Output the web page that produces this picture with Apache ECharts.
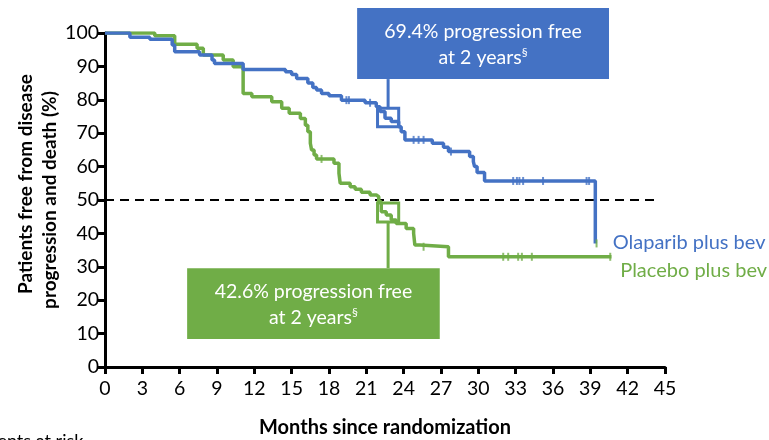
<!DOCTYPE html>
<html><head><meta charset="utf-8">
<script src="https://cdn.jsdelivr.net/npm/echarts@6/dist/echarts.min.js"></script>
<style>html,body{margin:0;padding:0;background:#fff}#c{width:769px;height:440px}</style>
</head><body><div id="c"></div>
<script>
// ---- data (months, % free from progression/death) ----
const olaparibEvents = [
  [0,100],[2.0,98.7],[3.6,98.1],[5.4,96.4],[5.6,94.4],[7.6,93.4],[8.6,91.9],[8.8,90.9],
  [11.1,89.1],[14.5,88.4],[15.0,87.6],[15.4,86.4],[16.3,85.0],[16.7,83.7],[17.0,82.9],
  [17.4,81.9],[18.0,81.2],[19.0,79.9],[20.9,79.1],[21.8,77.9],[22.1,76.5],[22.5,74.5],
  [23.0,73.5],[23.6,71.9],[23.8,70.4],[24.1,68.0],[26.3,67.0],[27.2,65.8],[27.6,64.5],
  [29.3,63.0],[29.6,61.5],[29.7,60.0],[29.9,58.2],[30.5,55.7],[39.4,37.0]
];
const placeboEvents = [
  [0,100],[4.0,99.2],[5.6,96.6],[7.4,95.4],[7.9,93.4],[9.5,91.9],[10.3,89.9],[11.1,81.9],
  [11.8,80.9],[13.4,79.4],[14.2,77.5],[14.8,76.0],[15.7,74.4],[16.1,72.4],[16.3,70.4],
  [16.5,67.0],[16.6,65.0],[16.8,63.5],[17.0,62.3],[18.4,61.0],[18.8,58.0],[18.9,55.0],
  [19.7,54.0],[20.1,53.2],[20.6,52.3],[21.3,51.5],[21.8,51.0],[22.0,49.5],[22.2,46.5],
  [22.6,45.5],[23.0,44.0],[23.4,43.0],[24.2,41.5],[24.8,40.0],[24.9,36.5],[25.3,36.0],
  [27.6,33.0],[40.7,33.0]
];
const olaparibCensored = [
  [19.4,79.9],[19.6,79.9],[21.3,79.1],[24.8,68.0],[25.2,68.0],[25.6,68.0],[27.8,64.5],
  [32.8,55.7],[33.1,55.7],[33.3,55.7],[33.6,55.7],[35.2,55.7],[38.7,55.7],[38.9,55.7]
];
const placeboCensored = [
  [17.4,62.3],[25.6,36.0],[32.0,33.0],[32.4,33.0],[33.2,33.0],[33.5,33.0],[34.3,33.0],
  [39.5,37.0],[40.6,33.0]
];
const medianLine = [[0,50],[44.2,50]];
const xTicks = { min: 0, max: 45, step: 3 };
const yTicks = { min: 0, max: 100, step: 10 };
const seriesNames = ['Olaparib plus bev', 'Placebo plus bev'];
const callouts = [
  { line1: '69.4% progression free', line2: 'at 2 years' },
  { line1: '42.6% progression free', line2: 'at 2 years' }
];

// ---- styling ----
const BLUE = '#4472C4', GREEN = '#70AD47';
const FONT = 'Lato, "Open Sans", sans-serif';

const chart = echarts.init(document.getElementById('c'), null, { renderer: 'canvas' });

const axisCommon = {
  type: 'value',
  axisLine: { show: true, onZero: false, lineStyle: { color: '#000', width: 3 } },
  axisTick: { show: true, length: 7, lineStyle: { color: '#000', width: 3 } },
  splitLine: { show: false },
  axisLabel: { color: '#000', fontSize: 19.5, fontFamily: FONT }
};

chart.setOption({
  animation: false,
  backgroundColor: '#fff',
  grid: { left: 105, top: 33, width: 560, height: 334, containLabel: false },
  xAxis: Object.assign({}, axisCommon, { min: xTicks.min, max: xTicks.max, interval: xTicks.step,
    axisLabel: Object.assign({}, axisCommon.axisLabel, { margin: 12 }) }),
  yAxis: Object.assign({}, axisCommon, { min: yTicks.min, max: yTicks.max, interval: yTicks.step,
    axisLabel: Object.assign({}, axisCommon.axisLabel, { margin: 6 }) }),
  series: [
    { type: 'line', data: medianLine, symbol: 'none', silent: true,
      lineStyle: { color: '#000', width: 2, type: [9, 6] }, z: 1 },
    { name: seriesNames[1], type: 'line', step: 'end', data: placeboEvents, symbol: 'none',
      lineStyle: { color: GREEN, width: 3.5 }, z: 2 },
    { name: seriesNames[0], type: 'line', step: 'end', data: olaparibEvents, symbol: 'none',
      lineStyle: { color: BLUE, width: 3.5 }, z: 3 },
    { type: 'scatter', data: placeboCensored, symbol: 'rect', symbolSize: [2, 8],
      itemStyle: { color: GREEN }, z: 4 },
    { type: 'scatter', data: olaparibCensored, symbol: 'rect', symbolSize: [2, 8],
      itemStyle: { color: BLUE }, z: 4 }
  ]
});

// annotation geometry in data units, converted to pixels through the axes
const P = (x, y) => chart.convertToPixel({ gridIndex: 0 }, [x, y]);
function rectFrom(x0, y0, x1, y1) {
  const a = P(x0, y0), b = P(x1, y1);
  return { x: Math.min(a[0], b[0]), y: Math.min(a[1], b[1]),
           width: Math.abs(b[0] - a[0]), height: Math.abs(b[1] - a[1]) };
}
const notes = [
  { color: BLUE, box: [20.26, 107.5, 40.5, 86.2], sq: [21.9, 77.5, 23.6, 71.9], stemX: 22.75,
    stem: [86.2, 77.5], text: callouts[0] },
  { color: GREEN, box: [6.6, 29.6, 26.9, 8.4], sq: [21.9, 49.1, 23.6, 43.4], stemX: 22.75,
    stem: [43.4, 29.6], text: callouts[1] }
];
const graphics = [];
notes.forEach(n => {
  const r = rectFrom(...n.box);
  graphics.push({ type: 'rect', shape: r, style: { fill: n.color }, z: 10 });
  const s = rectFrom(...n.sq);
  graphics.push({ type: 'rect', shape: s, style: { fill: 'none', stroke: n.color, lineWidth: 3 }, z: 10 });
  const p0 = P(n.stemX, n.stem[0]), p1 = P(n.stemX, n.stem[1]);
  graphics.push({ type: 'line', shape: { x1: p0[0], y1: p0[1], x2: p1[0], y2: p1[1] },
    style: { stroke: n.color, lineWidth: 3 }, z: 10 });
  graphics.push({ type: 'text', x: r.x + r.width / 2, y: r.y + r.height / 2 + 1, z: 11,
    style: { text: '{a|' + n.text.line1 + '}\n{a|' + n.text.line2 + '}{s|§}',
      align: 'center', verticalAlign: 'middle',
      rich: { a: { fontSize: 19.5, fontFamily: FONT, fill: '#fff', lineHeight: 26 },
              s: { fontSize: 12, fontFamily: FONT, fill: '#fff', lineHeight: 26, padding: [0, 0, 10, 0] } } } });
});
// series labels
const lab1 = P(40.8, 37.4), lab2 = P(41.4, 29.0);
graphics.push({ type: 'text', x: lab1[0], y: lab1[1], style: { text: seriesNames[0], fill: BLUE,
  fontSize: 20, fontFamily: FONT, align: 'left', verticalAlign: 'middle' } });
graphics.push({ type: 'text', x: lab2[0], y: lab2[1], style: { text: seriesNames[1], fill: GREEN,
  fontSize: 20, fontFamily: FONT, align: 'left', verticalAlign: 'middle' } });
// axis titles
graphics.push({ type: 'text', x: 26, y: 184, rotation: Math.PI / 2, style: { text: 'Patients free from disease',
  fill: '#000', fontSize: 19, fontWeight: 'bold', fontFamily: FONT, align: 'center', verticalAlign: 'middle' } });
graphics.push({ type: 'text', x: 50, y: 200, rotation: Math.PI / 2, style: { text: 'progression and death (%)',
  fill: '#000', fontSize: 19, fontWeight: 'bold', fontFamily: FONT, align: 'center', verticalAlign: 'middle' } });
graphics.push({ type: 'text', x: 385, y: 428, style: { text: 'Months since randomization',
  fill: '#000', fontSize: 20, fontWeight: 'bold', fontFamily: FONT, align: 'center', verticalAlign: 'middle' } });
graphics.push({ type: 'text', x: -33, y: 441, style: { text: 'Patients at risk',
  fill: '#000', fontSize: 18, fontFamily: FONT, align: 'left', verticalAlign: 'middle' } });

chart.setOption({ graphic: graphics });
</script>
</body></html>
